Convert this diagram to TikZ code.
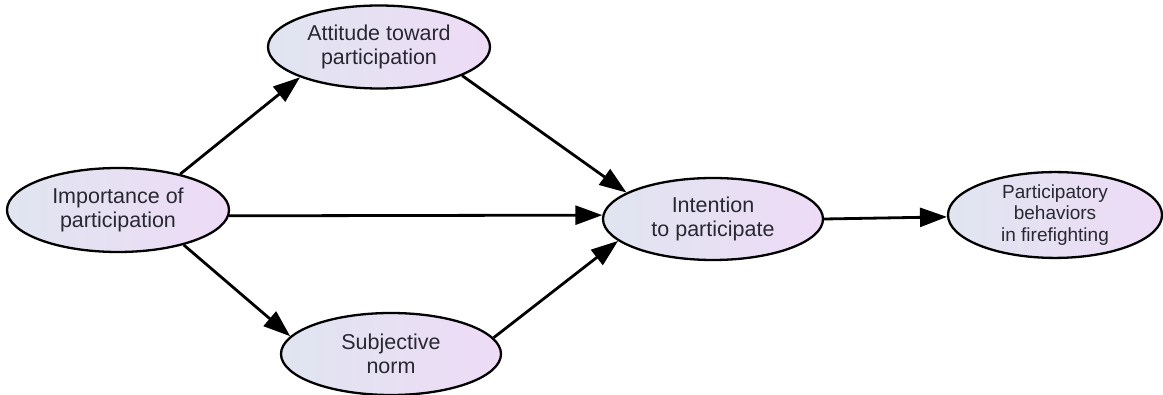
\documentclass[tikz,border=0pt]{standalone}
\usepackage{fontspec}
\setmainfont{Liberation Sans}
\usetikzlibrary{shapes.geometric,arrows.meta}
\definecolor{shadeL}{RGB}{224,229,240}
\definecolor{shadeR}{RGB}{238,219,246}
\definecolor{txt}{RGB}{40,40,50}
\tikzset{
  ell/.style={ellipse, draw=black, line width=2.3pt, left color=shadeL, right color=shadeR,
    inner sep=0pt, align=center, text=txt,
    font=\fontsize{21.5}{24}\selectfont},
  conn/.style={line width=2.8pt, -{Triangle[length=27pt,width=19pt]}},
}
\begin{document}
\begin{tikzpicture}[x=1pt,y=-1pt]
\useasboundingbox (0,0) rectangle (1163,395);
\node[ell, minimum width=222pt, minimum height=84pt] (imp) at (118,210) {Importance of\\participation};
\node[ell, minimum width=222pt, minimum height=83pt] (att) at (379,47) {Attitude toward\\participation};
\node[ell, minimum width=220pt, minimum height=82pt] (subj) at (391,354) {Subjective\\norm};
\node[ell, minimum width=220pt, minimum height=82pt] (int) at (713,219) {Intention\\to participate};
\node[ell, minimum width=214pt, minimum height=84pt, font=\fontsize{19}{21.5}\selectfont] (part) at (1055,215) {Participatory\\behaviors\\in firefighting};
\draw[conn] (imp.30.7) -- (att.201.9);
\draw[conn] (imp.-28.3) -- (subj.170.2);
\draw[conn] (imp.-3.1) -- (int.178.4);
\draw[conn] (att.-19.8) -- (int.163.2);
\draw[conn] (subj.9.2) -- (int.193.9);
\draw[conn] (int.0.5) -- (part.181.7);
\end{tikzpicture}
\end{document}
